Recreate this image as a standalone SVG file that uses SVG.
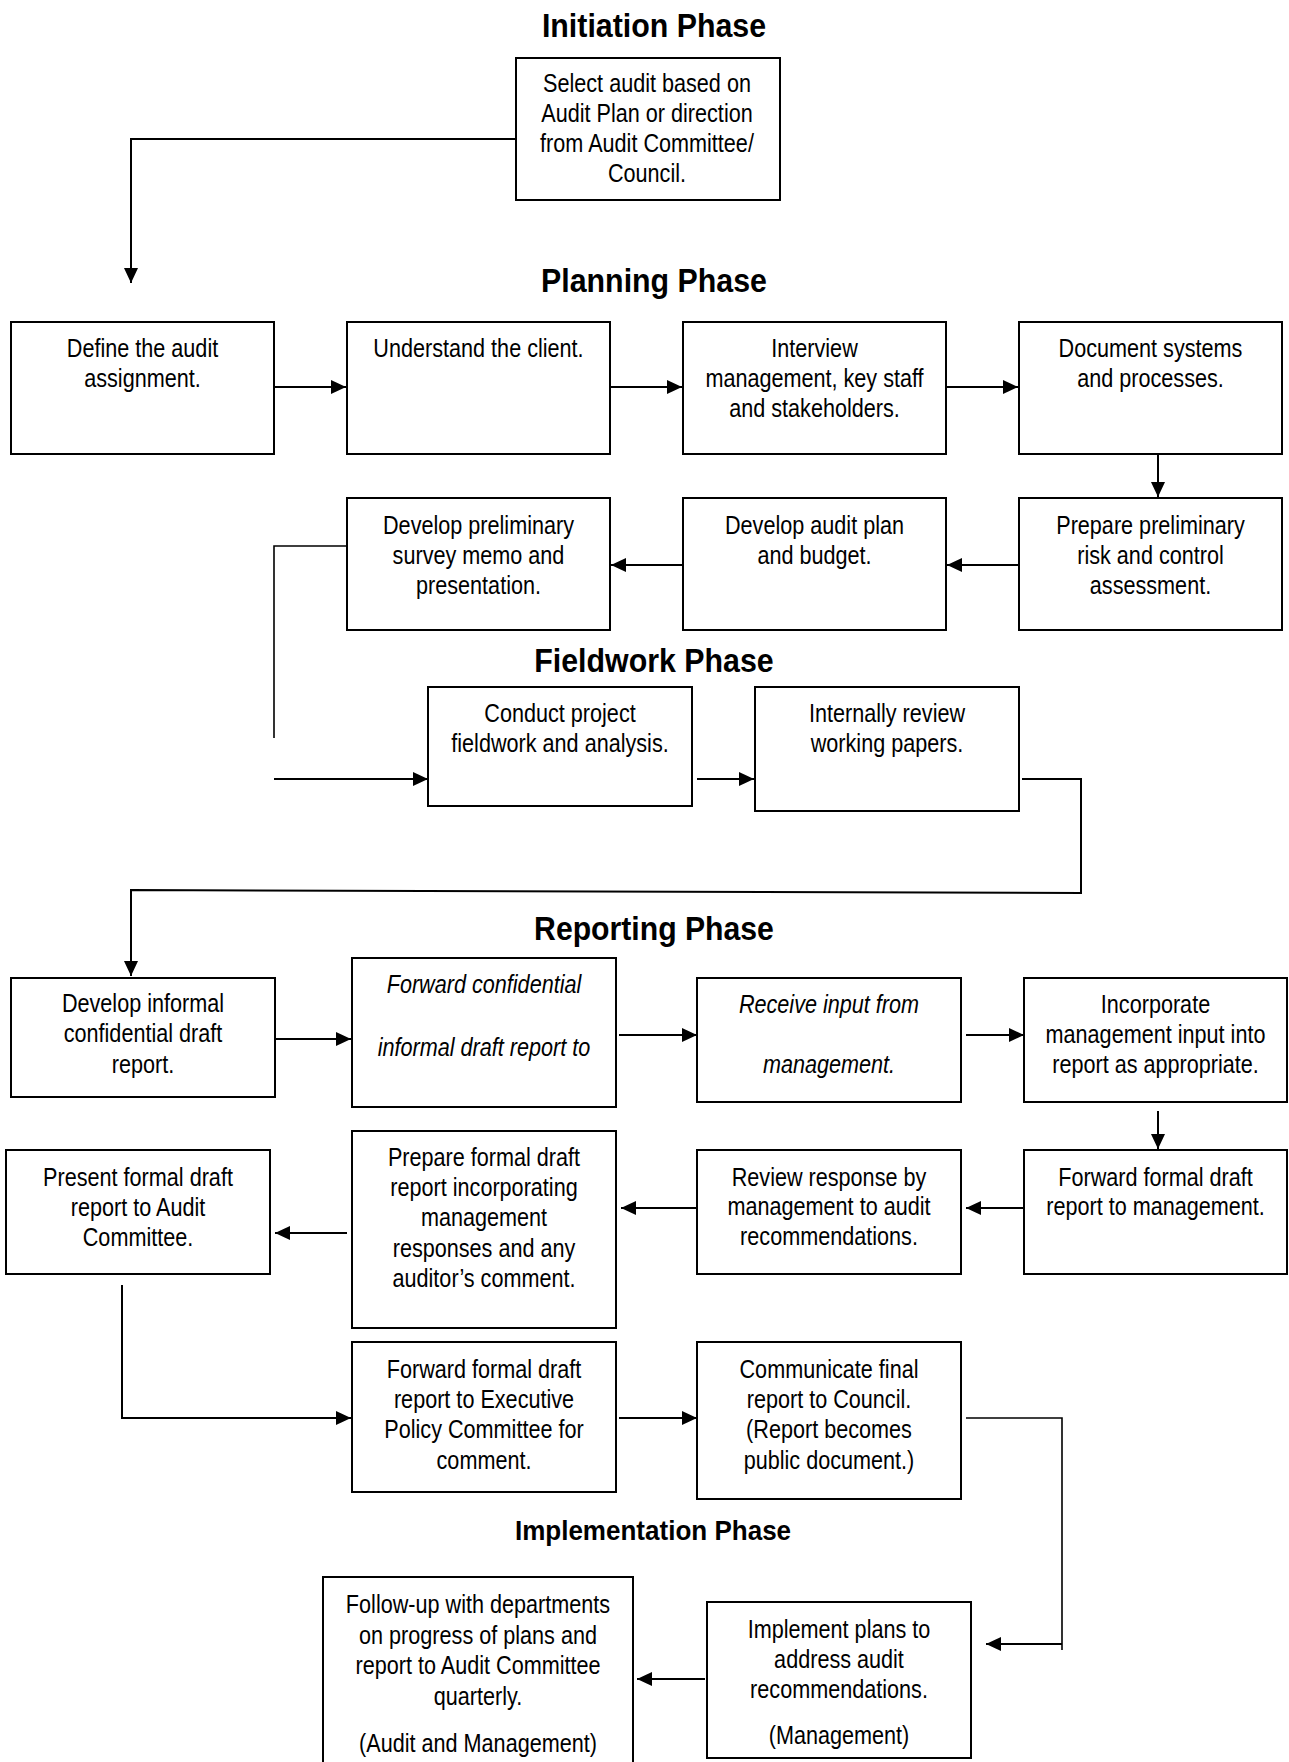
<svg xmlns="http://www.w3.org/2000/svg" width="1289" height="1762" viewBox="0 0 1289 1762">
<defs>
<marker id="ah" markerUnits="userSpaceOnUse" markerWidth="15" markerHeight="14" refX="15" refY="7" orient="auto">
<path d="M0,0 L15,7 L0,14 Z" fill="#000"/>
</marker>
<style>
.box{fill:#fff;stroke:#000;stroke-width:2}
.t{font-family:"Liberation Sans",Arial,sans-serif;font-size:25px;fill:#000;text-anchor:middle}
.it{font-style:italic}
.title{font-family:"Liberation Sans",Arial,sans-serif;font-size:33px;font-weight:bold;fill:#000;text-anchor:middle}
.ln{fill:none;stroke:#000;stroke-width:1.6}
.ar{fill:none;stroke:#000;stroke-width:2;marker-end:url(#ah)}
</style>
</defs>
<rect width="1289" height="1762" fill="#fff"/>

<g id="titles">
<text class="title" transform="translate(654 0) scale(0.92 1)" x="0" y="37">Initiation Phase</text>
<text class="title" transform="translate(654 0) scale(0.92 1)" x="0" y="292">Planning Phase</text>
<text class="title" transform="translate(654 0) scale(0.92 1)" x="0" y="672">Fieldwork Phase</text>
<text class="title" transform="translate(654 0) scale(0.915 1)" x="0" y="940">Reporting Phase</text>
<text class="title" transform="translate(653 0) scale(0.93 1)" x="0" y="1540" style="font-size:28px">Implementation Phase</text>
</g>

<g id="connectors">
<polyline class="ar" points="515,139 131,139 131,283"/>
<line class="ar" x1="274" y1="387" x2="346" y2="387"/>
<line class="ar" x1="610" y1="387" x2="682" y2="387"/>
<line class="ar" x1="946" y1="387" x2="1018" y2="387"/>
<line class="ar" x1="1158" y1="450" x2="1158" y2="497"/>
<line class="ar" x1="1018" y1="565" x2="947" y2="565"/>
<line class="ar" x1="682" y1="565" x2="611" y2="565"/>
<polyline class="ln" points="352,546 274,546 274,738"/>
<line class="ar" x1="274" y1="779" x2="428" y2="779"/>
<line class="ar" x1="697" y1="779" x2="754" y2="779"/>
<polyline class="ar" points="1022,779 1081,779 1081,893 131,890 131,976"/>
<line class="ar" x1="275" y1="1039" x2="351" y2="1039"/>
<line class="ar" x1="619" y1="1035" x2="697" y2="1035"/>
<line class="ar" x1="966" y1="1035" x2="1024" y2="1035"/>
<line class="ar" x1="1158" y1="1111" x2="1158" y2="1149"/>
<line class="ar" x1="1024" y1="1208" x2="966" y2="1208"/>
<line class="ar" x1="697" y1="1208" x2="621" y2="1208"/>
<line class="ar" x1="347" y1="1233" x2="275" y2="1233"/>
<polyline class="ar" points="122,1285 122,1418 351,1418"/>
<line class="ar" x1="619" y1="1418" x2="697" y2="1418"/>
<polyline class="ln" points="966,1418 1062,1418 1062,1650"/>
<line class="ar" x1="1062" y1="1644" x2="986" y2="1644"/>
<line class="ar" x1="705" y1="1679" x2="637" y2="1679"/>
</g>

<g id="n-init">
<rect class="box" x="516" y="58" width="264" height="142"/>
<text class="t" transform="translate(647 0) scale(0.865 1)"><tspan x="0" y="92">Select audit based on</tspan><tspan x="0" y="122">Audit Plan or direction</tspan><tspan x="0" y="152">from Audit Committee/</tspan><tspan x="0" y="182">Council.</tspan></text>
</g>

<g id="n-define">
<rect class="box" x="11" y="322" width="263" height="132"/>
<text class="t" transform="translate(142.5 0) scale(0.865 1)"><tspan x="0" y="357">Define the audit</tspan><tspan x="0" y="387">assignment.</tspan></text>
</g>
<g id="n-understand">
<rect class="box" x="347" y="322" width="263" height="132"/>
<text class="t" transform="translate(478.5 0) scale(0.865 1)"><tspan x="0" y="357">Understand the client.</tspan></text>
</g>
<g id="n-interview">
<rect class="box" x="683" y="322" width="263" height="132"/>
<text class="t" transform="translate(814.5 0) scale(0.865 1)"><tspan x="0" y="357">Interview</tspan><tspan x="0" y="387">management, key staff</tspan><tspan x="0" y="417">and stakeholders.</tspan></text>
</g>
<g id="n-document">
<rect class="box" x="1019" y="322" width="263" height="132"/>
<text class="t" transform="translate(1150.5 0) scale(0.865 1)"><tspan x="0" y="357">Document systems</tspan><tspan x="0" y="387">and processes.</tspan></text>
</g>

<g id="n-survey">
<rect class="box" x="347" y="498" width="263" height="132"/>
<text class="t" transform="translate(478.5 0) scale(0.865 1)"><tspan x="0" y="534">Develop preliminary</tspan><tspan x="0" y="564">survey memo and</tspan><tspan x="0" y="594">presentation.</tspan></text>
</g>
<g id="n-plan">
<rect class="box" x="683" y="498" width="263" height="132"/>
<text class="t" transform="translate(814.5 0) scale(0.865 1)"><tspan x="0" y="534">Develop audit plan</tspan><tspan x="0" y="564">and budget.</tspan></text>
</g>
<g id="n-risk">
<rect class="box" x="1019" y="498" width="263" height="132"/>
<text class="t" transform="translate(1150.5 0) scale(0.865 1)"><tspan x="0" y="534">Prepare preliminary</tspan><tspan x="0" y="564">risk and control</tspan><tspan x="0" y="594">assessment.</tspan></text>
</g>

<g id="n-fieldwork">
<rect class="box" x="428" y="687" width="264" height="119"/>
<text class="t" transform="translate(560 0) scale(0.865 1)"><tspan x="0" y="722">Conduct project</tspan><tspan x="0" y="752">fieldwork and analysis.</tspan></text>
</g>
<g id="n-review">
<rect class="box" x="755" y="687" width="264" height="124"/>
<text class="t" transform="translate(887 0) scale(0.865 1)"><tspan x="0" y="722">Internally review</tspan><tspan x="0" y="752">working papers.</tspan></text>
</g>

<g id="n-informal">
<rect class="box" x="11" y="978" width="264" height="119"/>
<text class="t" transform="translate(143 0) scale(0.865 1)"><tspan x="0" y="1012">Develop informal</tspan><tspan x="0" y="1042">confidential draft</tspan><tspan x="0" y="1073">report.</tspan></text>
</g>
<g id="n-forward-conf">
<rect class="box" x="352" y="958" width="264" height="149"/>
<text class="t it" transform="translate(484 0) scale(0.865 1)"><tspan x="0" y="993">Forward confidential</tspan><tspan x="0" y="1056">informal draft report to</tspan></text>
</g>
<g id="n-receive">
<rect class="box" x="697" y="978" width="264" height="124"/>
<text class="t it" transform="translate(829 0) scale(0.865 1)"><tspan x="0" y="1013">Receive input from</tspan><tspan x="0" y="1073">management.</tspan></text>
</g>
<g id="n-incorporate">
<rect class="box" x="1024" y="978" width="263" height="124"/>
<text class="t" transform="translate(1155.5 0) scale(0.865 1)"><tspan x="0" y="1013">Incorporate</tspan><tspan x="0" y="1043">management input into</tspan><tspan x="0" y="1073">report as appropriate.</tspan></text>
</g>

<g id="n-forward-mgmt">
<rect class="box" x="1024" y="1150" width="263" height="124"/>
<text class="t" transform="translate(1155.5 0) scale(0.865 1)"><tspan x="0" y="1186">Forward formal draft</tspan><tspan x="0" y="1215">report to management.</tspan></text>
</g>
<g id="n-review-resp">
<rect class="box" x="697" y="1150" width="264" height="124"/>
<text class="t" transform="translate(829 0) scale(0.865 1)"><tspan x="0" y="1186">Review response by</tspan><tspan x="0" y="1215">management to audit</tspan><tspan x="0" y="1245">recommendations.</tspan></text>
</g>
<g id="n-prepare-formal">
<rect class="box" x="352" y="1131" width="264" height="197"/>
<text class="t" transform="translate(484 0) scale(0.865 1)"><tspan x="0" y="1166">Prepare formal draft</tspan><tspan x="0" y="1196">report incorporating</tspan><tspan x="0" y="1226">management</tspan><tspan x="0" y="1257">responses and any</tspan><tspan x="0" y="1287">auditor’s comment.</tspan></text>
</g>
<g id="n-present">
<rect class="box" x="6" y="1150" width="264" height="124"/>
<text class="t" transform="translate(138 0) scale(0.865 1)"><tspan x="0" y="1186">Present formal draft</tspan><tspan x="0" y="1216">report to Audit</tspan><tspan x="0" y="1246">Committee.</tspan></text>
</g>

<g id="n-epc">
<rect class="box" x="352" y="1342" width="264" height="150"/>
<text class="t" transform="translate(484 0) scale(0.865 1)"><tspan x="0" y="1378">Forward formal draft</tspan><tspan x="0" y="1408">report to Executive</tspan><tspan x="0" y="1438">Policy Committee for</tspan><tspan x="0" y="1469">comment.</tspan></text>
</g>
<g id="n-council">
<rect class="box" x="697" y="1342" width="264" height="157"/>
<text class="t" transform="translate(829 0) scale(0.865 1)"><tspan x="0" y="1378">Communicate final</tspan><tspan x="0" y="1408">report to Council.</tspan><tspan x="0" y="1438">(Report becomes</tspan><tspan x="0" y="1469">public document.)</tspan></text>
</g>

<g id="n-implement">
<rect class="box" x="707" y="1602" width="264" height="156"/>
<text class="t" transform="translate(839 0) scale(0.865 1)"><tspan x="0" y="1638">Implement plans to</tspan><tspan x="0" y="1668">address audit</tspan><tspan x="0" y="1698">recommendations.</tspan><tspan x="0" y="1744">(Management)</tspan></text>
</g>
<g id="n-followup">
<rect class="box" x="323" y="1577" width="310" height="200"/>
<text class="t" transform="translate(478 0) scale(0.865 1)"><tspan x="0" y="1613">Follow-up with departments</tspan><tspan x="0" y="1644">on progress of plans and</tspan><tspan x="0" y="1674">report to Audit Committee</tspan><tspan x="0" y="1705">quarterly.</tspan><tspan x="0" y="1752">(Audit and Management)</tspan></text>
</g>
</svg>
